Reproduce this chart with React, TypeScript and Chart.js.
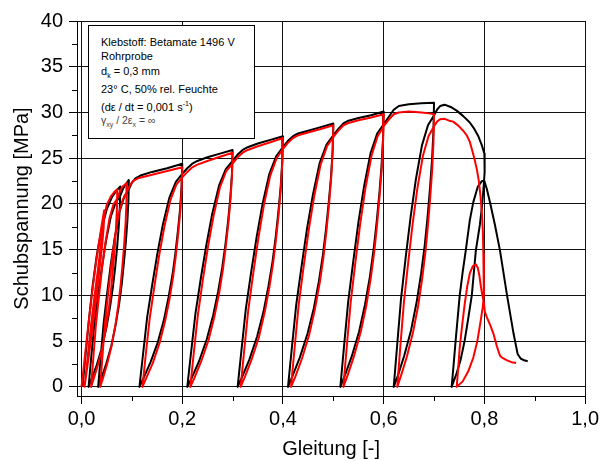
import React, { useEffect, useRef } from 'react';
import { Chart, registerables } from 'chart.js';

Chart.register(...registerables);

const FONT = '"Liberation Sans", Arial, Helvetica, sans-serif';

// Gleitung [-] / Schubspannung [MPa] — black test
const blackStrain = [
  0.002, 0.008, 0.015, 0.022, 0.03, 0.04, 0.05, 0.06, 0.07, 0.077,
  0.0761, 0.0739, 0.0707, 0.0669, 0.0625, 0.0568, 0.0499, 0.0411, 0.0304, 0.0203, 0.014,
  0.019, 0.0253, 0.0329, 0.0405, 0.0487, 0.0581, 0.0676, 0.077,
  0.082, 0.087, 0.091, 0.094,
  0.0931, 0.091, 0.0879, 0.0842, 0.08, 0.0745, 0.0678, 0.0592, 0.0489, 0.0391, 0.033,
  0.0379, 0.044, 0.0513, 0.0586, 0.0666, 0.0757, 0.0849, 0.094,
  0.1, 0.107, 0.117, 0.14, 0.17, 0.2,
  0.1987, 0.1958, 0.1915, 0.1864, 0.1805, 0.1728, 0.1635, 0.1516, 0.1371, 0.1235, 0.115,
  0.1218, 0.1303, 0.1405, 0.1507, 0.1618, 0.1745, 0.1873, 0.2,
  0.21, 0.22, 0.23, 0.25, 0.275, 0.3,
  0.2987, 0.2955, 0.291, 0.2856, 0.2793, 0.2712, 0.2613, 0.2487, 0.2334, 0.219, 0.21,
  0.2172, 0.2262, 0.237, 0.2478, 0.2595, 0.273, 0.2865, 0.3,
  0.31, 0.32, 0.33, 0.35, 0.375, 0.4,
  0.3987, 0.3955, 0.391, 0.3856, 0.3793, 0.3712, 0.3613, 0.3487, 0.3334, 0.319, 0.31,
  0.3172, 0.3262, 0.337, 0.3478, 0.3595, 0.373, 0.3865, 0.4,
  0.41, 0.42, 0.43, 0.45, 0.475, 0.5,
  0.4987, 0.4955, 0.491, 0.4856, 0.4793, 0.4712, 0.4613, 0.4487, 0.4334, 0.419, 0.41,
  0.4172, 0.4262, 0.437, 0.4478, 0.4595, 0.473, 0.4865, 0.5,
  0.51, 0.52, 0.53, 0.55, 0.575, 0.6,
  0.5987, 0.5957, 0.5914, 0.5862, 0.5802, 0.5725, 0.563, 0.551, 0.5364, 0.5226, 0.514,
  0.5209, 0.5295, 0.5398, 0.5501, 0.5613, 0.5742, 0.5871, 0.6,
  0.61, 0.62, 0.63, 0.65, 0.675, 0.7,
  0.6988, 0.696, 0.692, 0.6872, 0.6816, 0.6744, 0.6656, 0.6544, 0.6408, 0.628, 0.62,
  0.6264, 0.6344, 0.644, 0.6536, 0.664, 0.676, 0.688, 0.7,
  0.706, 0.712, 0.721, 0.733, 0.745, 0.758, 0.771, 0.78, 0.788, 0.795, 0.8, 0.801,
  0.8, 0.798, 0.795, 0.791, 0.783, 0.775, 0.768, 0.761, 0.753, 0.745, 0.735,
  0.739, 0.743, 0.751, 0.757, 0.763, 0.771, 0.778, 0.787, 0.795, 0.8,
  0.805, 0.811, 0.821, 0.831, 0.845, 0.858, 0.866, 0.872, 0.879, 0.886,
];
const blackStress = [
  0, 3.5, 7.5, 11, 14.3, 17.3, 19.4, 20.7, 21.5, 21.9,
  19.7, 17.5, 15.3, 13.1, 11.0, 8.8, 6.6, 4.4, 2.4, 0.9, 0,
  3.1, 6.8, 10.1, 13.1, 16.0, 18.6, 20.1, 20.9,
  21.6, 22.1, 22.4, 22.6,
  20.3, 18.1, 15.8, 13.6, 11.3, 9.0, 6.8, 4.5, 2.5, 0.9, 0,
  3.2, 7.0, 10.4, 13.6, 16.5, 19.2, 20.8, 21.6,
  22.3, 22.8, 23.1, 23.5, 23.9, 24.4,
  22.0, 19.5, 17.1, 14.6, 12.2, 9.8, 7.3, 4.9, 2.7, 1.0, 0,
  3.4, 7.6, 11.2, 14.6, 17.8, 20.7, 22.4, 23.3,
  23.9, 24.4, 24.7, 25.1, 25.5, 25.9,
  23.3, 20.7, 18.1, 15.5, 13.0, 10.4, 7.8, 5.2, 2.8, 1.0, 0,
  3.6, 8.0, 11.9, 15.5, 18.9, 22.0, 23.8, 24.7,
  25.4, 25.9, 26.2, 26.6, 27.0, 27.4,
  24.7, 21.9, 19.2, 16.4, 13.7, 11.0, 8.2, 5.5, 3.0, 1.1, 0,
  3.8, 8.5, 12.6, 16.4, 20.0, 23.3, 25.2, 26.2,
  26.9, 27.4, 27.7, 28.0, 28.4, 28.8,
  25.9, 23.0, 20.2, 17.3, 14.4, 11.5, 8.6, 5.8, 3.2, 1.2, 0,
  4.0, 8.9, 13.2, 17.3, 21.0, 24.5, 26.5, 27.5,
  28.2, 28.8, 29.1, 29.4, 29.7, 30.1,
  27.1, 24.1, 21.1, 18.1, 15.1, 12.0, 9.0, 6.0, 3.3, 1.2, 0,
  4.2, 9.3, 13.8, 18.1, 22.0, 25.6, 27.7, 28.7,
  29.5, 30.3, 30.7, 30.9, 31.0, 31.05,
  27.9, 24.8, 21.7, 18.6, 15.5, 12.4, 9.3, 6.2, 3.4, 1.2, 0,
  4.3, 9.6, 14.3, 18.6, 22.7, 26.4, 28.6, 29.7,
  30.3, 30.7, 30.85, 30.6, 30.2, 29.6, 28.9, 28.2, 27.4, 26.4, 25.5, 24.9,
  23.5, 21.5, 19.6, 17.7, 14.9, 10.0, 7.5, 5.1, 3.0, 1.5, 0,
  2.5, 5.1, 10.0, 12.6, 14.9, 18.2, 20.2, 21.9, 22.5, 22.5,
  21.6, 20.2, 17.7, 14.9, 10.0, 5.8, 3.6, 3.1, 2.9, 2.8,
];

// red test
const redStrain = [
  0.0, 0.007, 0.014, 0.021, 0.028, 0.035, 0.041, 0.045,
  0.044, 0.041, 0.036, 0.03, 0.022, 0.014, 0.006,
  0.012, 0.019, 0.026, 0.033, 0.039, 0.044, 0.05,
  0.058, 0.065, 0.071,
  0.0702, 0.0684, 0.0658, 0.0627, 0.059, 0.0544, 0.0486, 0.0414, 0.0325, 0.0242, 0.019,
  0.0232, 0.0284, 0.0346, 0.0408, 0.0476, 0.0554, 0.0632, 0.071,
  0.076, 0.081, 0.086, 0.09,
  0.0892, 0.0874, 0.0847, 0.0815, 0.0778, 0.073, 0.0672, 0.0598, 0.0508, 0.0423, 0.037,
  0.0412, 0.0465, 0.0529, 0.0593, 0.0662, 0.0741, 0.0821, 0.09,
  0.096, 0.102, 0.112, 0.14, 0.17, 0.2,
  0.1988, 0.1961, 0.1921, 0.1874, 0.1818, 0.1747, 0.166, 0.155, 0.1415, 0.1289, 0.121,
  0.1273, 0.1352, 0.1447, 0.1542, 0.1645, 0.1763, 0.1882, 0.2,
  0.21, 0.22, 0.23, 0.25, 0.275, 0.3,
  0.2987, 0.2958, 0.2916, 0.2866, 0.2807, 0.2731, 0.2639, 0.2521, 0.2378, 0.2244, 0.216,
  0.2227, 0.2311, 0.2412, 0.2513, 0.2622, 0.2748, 0.2874, 0.3,
  0.31, 0.32, 0.33, 0.35, 0.375, 0.4,
  0.3987, 0.3958, 0.3916, 0.3866, 0.3807, 0.3731, 0.3639, 0.3521, 0.3378, 0.3244, 0.316,
  0.3227, 0.3311, 0.3412, 0.3513, 0.3622, 0.3748, 0.3874, 0.4,
  0.41, 0.42, 0.43, 0.45, 0.475, 0.5,
  0.4987, 0.4958, 0.4916, 0.4866, 0.4807, 0.4731, 0.4639, 0.4521, 0.4378, 0.4244, 0.416,
  0.4227, 0.4311, 0.4412, 0.4513, 0.4622, 0.4748, 0.4874, 0.5,
  0.51, 0.52, 0.53, 0.55, 0.575, 0.6,
  0.5988, 0.596, 0.592, 0.5872, 0.5816, 0.5744, 0.5656, 0.5544, 0.5408, 0.528, 0.52,
  0.5264, 0.5344, 0.544, 0.5536, 0.564, 0.576, 0.588, 0.6,
  0.61, 0.62, 0.63, 0.65, 0.675, 0.69, 0.7,
  0.6989, 0.6964, 0.6927, 0.6883, 0.6832, 0.6766, 0.6686, 0.6584, 0.646, 0.6343, 0.627,
  0.6328, 0.6401, 0.6489, 0.6577, 0.6672, 0.6781, 0.689, 0.7,
  0.706, 0.712, 0.721, 0.73, 0.738, 0.745, 0.751, 0.758, 0.765, 0.771, 0.775, 0.78, 0.785, 0.789, 0.792, 0.795, 0.797, 0.798, 0.799, 0.799,
  0.797, 0.792, 0.786, 0.778, 0.768, 0.757, 0.745,
  0.748, 0.751, 0.756, 0.761, 0.766, 0.771, 0.777, 0.783, 0.787, 0.79, 0.793, 0.796, 0.799,
  0.801, 0.805, 0.812, 0.818, 0.825, 0.831, 0.835, 0.845, 0.854, 0.863,
];
const redStress = [
  0, 3.5, 7.0, 10.3, 13.3, 15.9, 18.0, 19.3,
  17.5, 15.5, 13.0, 10.0, 6.5, 3.2, 0,
  3.2, 6.8, 10.0, 13.0, 15.8, 18.3, 19.9,
  20.8, 21.3, 21.6,
  19.4, 17.3, 15.1, 13.0, 10.8, 8.6, 6.5, 4.3, 2.4, 0.9, 0,
  3.0, 6.7, 9.9, 13.0, 15.8, 18.4, 19.9, 20.6,
  21.3, 21.9, 22.1, 22.3,
  20.1, 17.8, 15.6, 13.4, 11.2, 8.9, 6.7, 4.5, 2.5, 0.9, 0,
  3.1, 6.9, 10.3, 13.4, 16.3, 19.0, 20.5, 21.3,
  22.0, 22.5, 22.8, 23.2, 23.6, 24.0,
  21.6, 19.2, 16.8, 14.4, 12.0, 9.6, 7.2, 4.8, 2.6, 1.0, 0,
  3.4, 7.4, 11.0, 14.4, 17.5, 20.4, 22.1, 22.9,
  23.5, 24.0, 24.3, 24.7, 25.15, 25.6,
  23.0, 20.5, 17.9, 15.4, 12.8, 10.2, 7.7, 5.1, 2.8, 1.0, 0,
  3.6, 7.9, 11.8, 15.4, 18.7, 21.8, 23.6, 24.4,
  25.1, 25.6, 25.9, 26.3, 26.75, 27.2,
  24.5, 21.8, 19.0, 16.3, 13.6, 10.9, 8.2, 5.4, 3.0, 1.1, 0,
  3.8, 8.4, 12.5, 16.3, 19.9, 23.1, 25.0, 26.0,
  26.7, 27.2, 27.5, 27.8, 28.2, 28.6,
  25.7, 22.9, 20.0, 17.2, 14.3, 11.4, 8.6, 5.7, 3.1, 1.1, 0,
  4.0, 8.9, 13.2, 17.2, 20.9, 24.3, 26.3, 27.3,
  28.0, 28.6, 28.85, 29.15, 29.45, 29.8,
  26.8, 23.8, 20.9, 17.9, 14.9, 11.9, 8.9, 6.0, 3.3, 1.2, 0,
  4.2, 9.2, 13.7, 17.9, 21.8, 25.3, 27.4, 28.5,
  29.2, 29.8, 30.0, 30.1, 30.0, 29.9, 29.8,
  26.8, 23.8, 20.9, 17.9, 14.9, 11.9, 8.9, 6.0, 3.3, 1.2, 0,
  4.2, 9.2, 13.7, 17.9, 21.8, 25.3, 27.4, 28.5,
  29.0, 29.25, 29.3, 29.1, 29.0, 28.7, 28.4, 28.0, 27.5, 26.8, 26.0, 25.0, 23.8, 22.5, 21.0, 19.0, 17.0, 14.5, 12.0, 10.2,
  8.8, 7.0, 5.0, 3.2, 1.7, 0.6, 0,
  2.0, 4.3, 6.8, 9.1, 11.0, 12.4, 13.2, 13.4, 13.0, 12.2, 11.0, 10.0, 9.2,
  8.2, 7.6, 6.7, 5.8, 4.4, 3.4, 3.2, 2.9, 2.7, 2.6,
];

const xTickLabels = ['0,0', '0,2', '0,4', '0,6', '0,8', '1,0'];
const xMinorTicks = [0.1, 0.3, 0.5, 0.7, 0.9];
const yMinorTicks = [2.5, 7.5, 12.5, 17.5, 22.5, 27.5, 32.5, 37.5];

const toPoints = (xs: number[], ys: number[]) => xs.map((x, i) => ({ x, y: ys[i] }));

export default function App() {
  const ref = useRef<HTMLCanvasElement | null>(null);

  useEffect(() => {
    if (!ref.current) return;
    const minorTickPlugin = {
      id: 'minorTicks',
      afterDraw(chart: any) {
        const { ctx, chartArea, scales } = chart;
        ctx.save();
        ctx.strokeStyle = '#000';
        ctx.lineWidth = 1;
        ctx.beginPath();
        for (const v of yMinorTicks) {
          const py = Math.round(scales.y.getPixelForValue(v)) + 0.5;
          ctx.moveTo(chartArea.left - 5, py);
          ctx.lineTo(chartArea.left, py);
        }
        for (const v of xMinorTicks) {
          const px = Math.round(scales.x.getPixelForValue(v)) + 0.5;
          ctx.moveTo(px, chartArea.bottom);
          ctx.lineTo(px, chartArea.bottom + 5);
        }
        ctx.stroke();
        ctx.restore();
      },
    };

    const chart = new Chart(ref.current, {
      type: 'scatter',
      data: {
        datasets: [
          {
            label: 'rot',
            data: toPoints(redStrain, redStress),
            showLine: true,
            borderColor: '#ff0000',
            backgroundColor: '#ff0000',
            borderWidth: 2,
            pointRadius: 0,
            tension: 0,
            borderJoinStyle: 'round',
          },
          {
            label: 'schwarz',
            data: toPoints(blackStrain, blackStress),
            showLine: true,
            borderColor: '#000000',
            backgroundColor: '#000000',
            borderWidth: 2,
            pointRadius: 0,
            tension: 0,
            borderJoinStyle: 'round',
          },
        ],
      },
      options: {
        responsive: false,
        animation: false,
        devicePixelRatio: 1,
        layout: { padding: { left: 0, right: 14, top: 21, bottom: 0 } },
        plugins: { legend: { display: false }, tooltip: { enabled: false } },
        scales: {
          x: {
            type: 'linear',
            min: -0.009,
            max: 1.0,
            afterFit: (s: any) => { s.height = 65; },
            ticks: {
              stepSize: 0.2,
              includeBounds: false,
              autoSkip: false,
              maxRotation: 0,
              padding: 3,
              color: '#000',
              font: { family: FONT, size: 20 },
              callback: (v: any) => xTickLabels[Math.round(Number(v) / 0.2)] ?? '',
            },
            grid: { color: '#111', lineWidth: 1, tickLength: 8, tickColor: '#000' },
            border: { color: '#000', width: 1 },
            title: {
              display: true,
              text: 'Gleitung [-]',
              color: '#000',
              font: { family: FONT, size: 20 },
              padding: { top: 0, bottom: 0 },
            },
          },
          y: {
            type: 'linear',
            min: -1,
            max: 40,
            afterFit: (s: any) => { s.width = 77; },
            ticks: {
              stepSize: 5,
              includeBounds: false,
              autoSkip: false,
              padding: 6,
              color: '#000',
              font: { family: FONT, size: 20 },
            },
            grid: { color: '#111', lineWidth: 1, tickLength: 8, tickColor: '#000' },
            border: { color: '#000', width: 1 },
            title: {
              display: true,
              text: 'Schubspannung [MPa]',
              color: '#000',
              font: { family: FONT, size: 20 },
              padding: { top: 10, bottom: 0 },
            },
          },
        },
      },
      plugins: [minorTickPlugin],
    } as any);
    return () => chart.destroy();
  }, []);

  const lineStyle = (top: number, extra: React.CSSProperties = {}): React.CSSProperties => ({
    position: 'absolute',
    left: 12,
    top,
    whiteSpace: 'nowrap',
    lineHeight: '11px',
    ...extra,
  });
  const sub: React.CSSProperties = { fontSize: '7px', position: 'relative', top: 3 };
  const sup: React.CSSProperties = { fontSize: '7px', position: 'relative', top: -5 };

  return (
    <div style={{ position: 'absolute', left: 0, top: 0, width: 602, height: 461, background: '#fff' }}>
      <canvas ref={ref} width={602} height={461} style={{ display: 'block' }} />
      <div
        style={{
          position: 'absolute',
          left: 88,
          top: 25,
          width: 167,
          height: 114,
          boxSizing: 'border-box',
          border: '1px solid #000',
          background: '#fff',
          fontFamily: FONT,
          fontSize: '11px',
          color: '#000',
        }}
      >
        <div style={lineStyle(11)}>Klebstoff: Betamate 1496 V</div>
        <div style={lineStyle(24.5)}>Rohrprobe</div>
        <div style={lineStyle(40)}>d<span style={sub}>k</span> = 0,3 mm</div>
        <div style={lineStyle(58)}>23° C, 50% rel. Feuchte</div>
        <div style={lineStyle(75.5)}>(dε / dt = 0,001 s<span style={sup}>-1</span>)</div>
        <div style={lineStyle(88.5, { color: '#444', fontSize: '10.5px' })}>
          γ<span style={sub}>xy</span> / 2ε<span style={sub}>x</span> = ∞
        </div>
      </div>
    </div>
  );
}
